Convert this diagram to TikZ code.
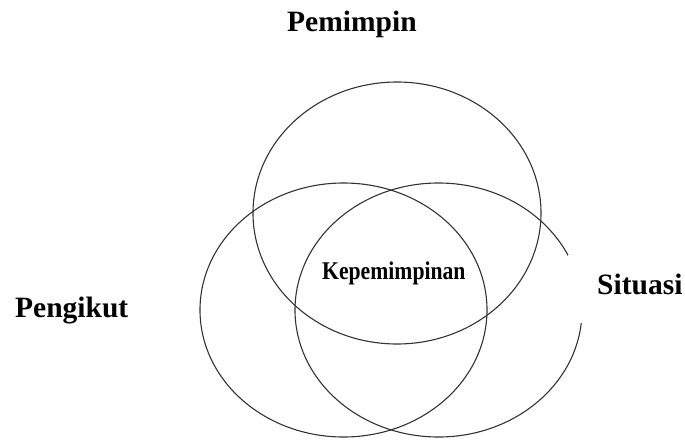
\documentclass[tikz,border=0pt]{standalone}
\usepackage{fontspec}
\setmainfont{Liberation Serif}
\begin{document}
\begin{tikzpicture}[x=1pt,y=-1pt,
  ring/.style={line width=1.1pt,draw=black!80},
  lbl/.style={anchor=base west,inner sep=0pt,font=\fontsize{29.5}{32}\selectfont\bfseries},
  mid/.style={anchor=base west,inner sep=0pt,font=\fontsize{25.5}{27}\selectfont\bfseries}]
\useasboundingbox (0,0) rectangle (685,441);
\draw[ring] (397,213) ellipse [x radius=144pt, y radius=131pt];
\draw[ring] (343.5,310) ellipse [x radius=143.5pt, y radius=127pt];
\draw[ring] (438.5,310) ellipse [x radius=143.5pt, y radius=127pt];
\fill[white] (568,255) rectangle (685,323);
\node[lbl] (pem) at (287,32) {Pemimpin};
\node[lbl] (pen) at (15,317) {Pengikut};
\node[lbl] (sit) at (597,294) {Situasi};
\node[mid] (kep) at (322,279) {\scalebox{0.85}[1]{Kepemimpinan}};
\end{tikzpicture}
\end{document}
